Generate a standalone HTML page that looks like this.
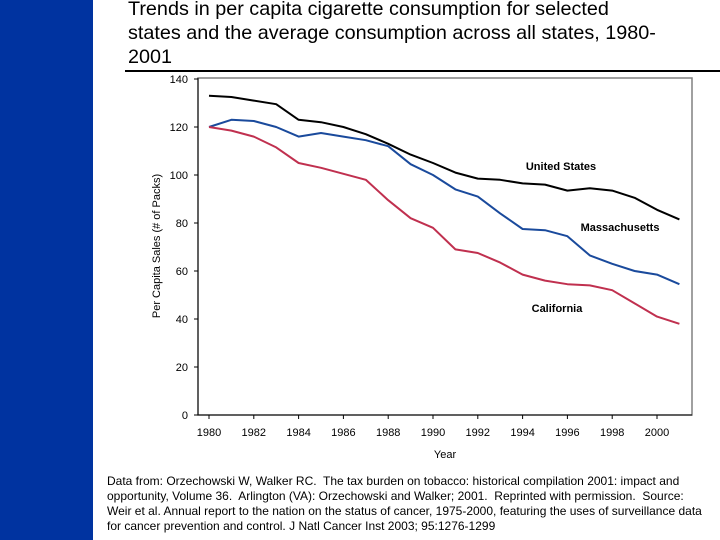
<!DOCTYPE html>
<html><head><meta charset="utf-8"><style>
body{margin:0;width:720px;height:540px;background:#fff;position:relative;overflow:hidden;font-family:"Liberation Sans",Arial,sans-serif}
#bar{position:absolute;left:0;top:0;width:93px;height:540px;background:#0033a0}
#title{position:absolute;left:128px;top:-3px;font-size:19.8px;line-height:24px;color:#000;white-space:nowrap}
#rule{position:absolute;left:125px;top:70px;width:595px;height:2px;background:#000}
#foot{position:absolute;left:107px;top:474px;font-size:12px;line-height:15px;width:602px;color:#000}
svg{position:absolute;left:0;top:0}
</style></head><body>
<div id="bar"></div>
<div id="title">Trends in per capita cigarette consumption for selected<br>states and the average consumption across all states, 1980-<br>2001</div>
<div id="rule"></div>
<svg id="chart" width="720" height="540"></svg>
<div id="foot">Data from: Orzechowski W, Walker RC.&nbsp; The tax burden on tobacco: historical compilation 2001: impact and opportunity, Volume 36.&nbsp; Arlington (VA): Orzechowski and Walker; 2001.&nbsp; Reprinted with permission.&nbsp; Source: Weir et al. Annual report to the nation on the status of cancer, 1975-2000, featuring the uses of surveillance data for cancer prevention and control. J Natl Cancer Inst 2003; 95:1276-1299</div>
<script>
const years=[1980,1981,1982,1983,1984,1985,1986,1987,1988,1989,1990,1991,1992,1993,1994,1995,1996,1997,1998,1999,2000,2001];
const usValues=[133,132.5,131,129.5,123,122,120,117,113,108.5,105,101,98.5,98,96.5,96,93.5,94.5,93.5,90.5,85.5,81.5];
const maValues=[120,123,122.5,120,116,117.5,116,114.5,112,104.5,100,94,91,84,77.5,77,74.5,66.5,63,60,58.5,54.5];
const caValues=[120,118.5,116,111.5,105,103,100.5,98,89.5,82,78,69,67.5,63.5,58.5,56,54.5,54,52,46.5,41,38];
const yTicks=[0,20,40,60,80,100,120,140];
const xTicks=[1980,1982,1984,1986,1988,1990,1992,1994,1996,1998,2000];
const NS="http://www.w3.org/2000/svg";
const svg=document.getElementById('chart');
const X=v=>209+(v-1980)*22.4;
const Y=v=>415-v*2.4;
function el(t,a){const e=document.createElementNS(NS,t);for(const k in a)e.setAttribute(k,a[k]);svg.appendChild(e);return e;}
const box=el('rect',{x:198,y:78,width:494,height:337,fill:'none',stroke:'#808080','stroke-width':1.5});


const ya=el('line',{x1:198,y1:78,x2:198,y2:415,stroke:'#000'});


const xa=el('line',{x1:198,y1:415,x2:692,y2:415,stroke:'#000'});


yTicks.forEach(v=>{
 el('line',{x1:194,y1:Y(v),x2:198,y2:Y(v),stroke:'#000'});
 const t=el('text',{x:188,y:Y(v)+4,'text-anchor':'end','font-size':11});t.textContent=v;
 
 
});
xTicks.forEach(v=>{
 el('line',{x1:X(v),y1:415,x2:X(v),y2:419,stroke:'#000'});
 const t=el('text',{x:X(v),y:436,'text-anchor':'middle','font-size':11});t.textContent=v;
 
 
});
const xt=el('text',{x:445,y:458,'text-anchor':'middle','font-size':11});xt.textContent='Year';


const yt=el('text',{x:0,y:0,'text-anchor':'middle','font-size':11,transform:'translate(160,246) rotate(-90)'});yt.textContent='Per Capita Sales (# of Packs)';


function series(vals,color,name){
 const p=el('polyline',{points:vals.map((v,i)=>X(years[i])+','+Y(v)).join(' '),fill:'none',stroke:color,'stroke-width':2,'stroke-linejoin':'round'});
 
 
}
series(usValues,'#000','line-united-states');
series(maValues,'#1a4a9c','line-massachusetts');
series(caValues,'#c0304f','line-california');
[['United States',561,170,'label-united-states'],['Massachusetts',620,231,'label-massachusetts'],['California',557,312,'label-california']].forEach(d=>{
 const t=el('text',{x:d[1],y:d[2],'text-anchor':'middle','font-size':11,'font-weight':'bold'});t.textContent=d[0];
 
 
});
</script>
</body></html>
